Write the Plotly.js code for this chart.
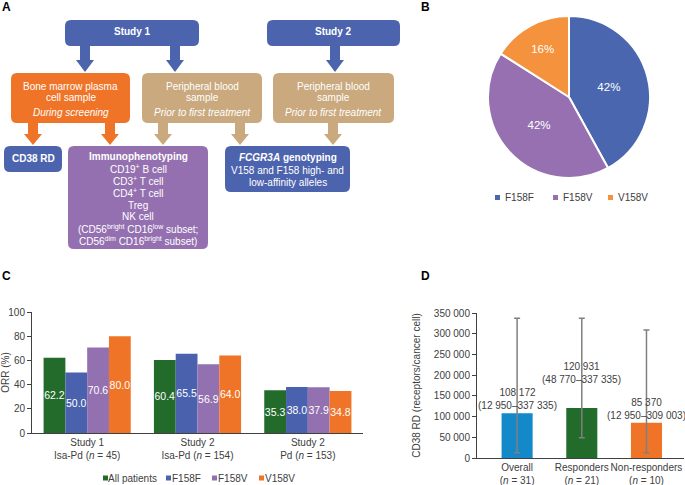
<!DOCTYPE html>
<html><head><meta charset="utf-8">
<script src="https://cdn.plot.ly/plotly-3.0.1.min.js"></script>
<style>html,body{margin:0;padding:0;background:#fff;}</style>
</head><body>
<div id="chart" style="width:685px;height:485px;"></div>
<script>
// ---------- Panel B data ----------
const genotypes = ['F158F', 'F158V', 'V158V'];
const genotypeShare = [42, 42, 16];
// ---------- Panel C data ----------
const studyGroups = ['Study 1<br>Isa-Pd (<i>n</i> = 45)', 'Study 2<br>Isa-Pd (<i>n</i> = 154)', 'Study 2<br>Pd (<i>n</i> = 153)'];
const orrSeries = ['All patients', 'F158F', 'F158V', 'V158V'];
const orrAll = [62.2, 60.4, 35.3];
const orrFF = [50.0, 65.5, 38.0];
const orrFV = [70.6, 56.9, 37.9];
const orrVV = [80.0, 64.0, 34.8];
const orrTicks = [0, 20, 40, 60, 80, 100];
// ---------- Panel D data ----------
const rdGroups = ['Overall<br>(<i>n</i> = 31)', 'Responders<br>(<i>n</i> = 21)', 'Non-responders<br>(<i>n</i> = 10)'];
const rdMedian = [108172, 120931, 85370];
const rdMin = [12950, 48770, 12950];
const rdMax = [337335, 337335, 309003];
const rdTicks = [0, 50000, 100000, 150000, 200000, 250000, 300000, 350000];

// ---------- helpers ----------
const W = 685, H = 485;
const px = x => x / W;
const py = y => 1 - y / H;
const FONT = 'Liberation Sans, Arial, sans-serif';
const fmt = n => String(n).replace(/\B(?=(\d{3})+(?!\d))/g, ' ');

const BLUE = '#4c63ae', ORANGE = '#f07427', TAN = '#c9a97d', PURPLE = '#9570b0', GREEN = '#236b2a';
const ORRCOL = [GREEN, '#4a62ad', '#9370b0', ORANGE];
const PIECOL = ['#4a66ae', '#9670b0', '#f5923e'];
const DCOL = ['#1389c9', GREEN, ORANGE];

function P(x, y) { return px(x).toFixed(5) + ',' + py(y).toFixed(5); }
function rr(x0, y0, x1, y1, r) {
  return 'M' + P(x0 + r, y0) + ' L' + P(x1 - r, y0) + ' Q' + P(x1, y0) + ' ' + P(x1, y0 + r) +
    ' L' + P(x1, y1 - r) + ' Q' + P(x1, y1) + ' ' + P(x1 - r, y1) +
    ' L' + P(x0 + r, y1) + ' Q' + P(x0, y1) + ' ' + P(x0, y1 - r) +
    ' L' + P(x0, y0 + r) + ' Q' + P(x0, y0) + ' ' + P(x0 + r, y0) + ' Z';
}
function arrowPath(cx, y0, y1, hy) {
  return 'M' + P(cx - 5, y0) + ' L' + P(cx + 5, y0) + ' L' + P(cx + 5, hy) + ' L' + P(cx + 9, hy) +
    ' L' + P(cx, y1) + ' L' + P(cx - 9, hy) + ' L' + P(cx - 5, hy) + ' Z';
}
const shapes = [];
function box(x0, y0, x1, y1, col) {
  shapes.push({type: 'path', xref: 'paper', yref: 'paper', path: rr(x0, y0, x1, y1, 6), fillcolor: col, line: {width: 0}});
}
function arrow(cx, y0, y1, hy, col) {
  shapes.push({type: 'path', xref: 'paper', yref: 'paper', path: arrowPath(cx, y0, y1, hy), fillcolor: col, line: {width: 0}});
}
const annotations = [];
function txt(x, y, text, opts) {
  opts = opts || {};
  annotations.push({
    xref: 'paper', yref: 'paper', x: px(x), y: py(y), text: text, showarrow: false,
    xanchor: opts.xanchor || 'center', yanchor: 'middle', borderpad: 0,
    font: {family: FONT, size: opts.size || 10, color: opts.color || '#fff'}
  });
}

// ---------- Panel A flowchart ----------
arrow(85, 45, 72, 60, BLUE);
arrow(175, 45, 72, 60, BLUE);
arrow(335, 45, 72, 60, BLUE);
arrow(33, 122, 145, 134, ORANGE);
arrow(110, 122, 145, 134, ORANGE);
arrow(163, 122, 145, 134, TAN);
arrow(240, 122, 145, 134, TAN);
arrow(333, 122, 145, 134, TAN);
box(65, 20, 199, 46, BLUE);
box(267, 20, 400, 46, BLUE);
box(11, 73, 130, 123, ORANGE);
box(142, 73, 262, 123, TAN);
box(273, 73, 394, 123, TAN);
box(4, 146, 62, 172, BLUE);
box(68, 146, 208, 249, PURPLE);
box(225, 146, 350, 192, BLUE);

txt(132, 32, '<b>Study 1</b>');
txt(333.5, 32, '<b>Study 2</b>');
txt(70.5, 86, 'Bone marrow plasma');
txt(70.5, 98, 'cell sample');
txt(70.5, 112, '<i>During screening</i>');
[202, 333.5].forEach(cx => {
  txt(cx, 86, 'Peripheral blood');
  txt(cx, 98, 'sample');
  txt(cx, 112, '<i>Prior to first treatment</i>');
});
txt(33, 159, '<b>CD38 RD</b>');
txt(138, 157, '<b>Immunophenotyping</b>');
txt(138, 169, 'CD19<sup>+</sup> B cell');
txt(138, 181, 'CD3<sup>+</sup> T cell');
txt(138, 193, 'CD4<sup>+</sup> T cell');
txt(138, 205, 'Treg');
txt(138, 217, 'NK cell');
txt(138, 229, '(CD56<sup>bright</sup> CD16<sup>low</sup> subset;');
txt(138, 241, 'CD56<sup>dim</sup> CD16<sup>bright</sup> subset)');
txt(287.5, 158, '<b><i>FCGR3A</i> genotyping</b>');
txt(287.5, 170, 'V158 and F158 high- and');
txt(287.5, 182, 'low-affinity alleles');

// panel letters
txt(6, 7, '<b>A</b>', {size: 12, color: '#000'});
txt(426, 7, '<b>B</b>', {size: 12, color: '#000'});
txt(6, 276, '<b>C</b>', {size: 12, color: '#000'});
txt(426, 276, '<b>D</b>', {size: 12, color: '#000'});

// ---------- manual legends ----------
function legendItem(mx, my, col, label, tx) {
  shapes.push({type: 'rect', xref: 'paper', yref: 'paper', x0: px(mx), x1: px(mx + 5), y0: py(my + 2.5), y1: py(my - 2.5), fillcolor: col, line: {width: 0}});
  txt(tx, my, label, {xanchor: 'left', color: '#404040'});
}
const pieLegX = [495, 553, 608], pieTxtX = [504, 562, 617];
genotypes.forEach((g, i) => legendItem(pieLegX[i], 197.5, PIECOL[i], g, pieTxtX[i]));
const cLegX = [103, 166, 212, 259], cTxtX = [107, 171, 217, 264];
orrSeries.forEach((s, i) => legendItem(cLegX[i], 478, ORRCOL[i], s, cTxtX[i]));

// ---------- Panel D labels ----------
const dShift = [1, 22, 1];
rdMedian.forEach((v, i) => {
  annotations.push({
    xref: 'x2', yref: 'y2', x: rdGroups[i], y: v, yanchor: 'bottom', yshift: dShift[i],
    text: fmt(v) + '<br>(' + fmt(rdMin[i]) + '–' + fmt(rdMax[i]) + ')', showarrow: false,
    borderpad: 0, font: {family: FONT, size: 10, color: '#404040'}
  });
});

// ---------- traces ----------
const orrValues = [orrAll, orrFF, orrFV, orrVV];
const traces = orrValues.map((vals, i) => ({
  type: 'bar', x: studyGroups, y: vals, name: orrSeries[i], xaxis: 'x', yaxis: 'y',
  marker: {color: ORRCOL[i]}, text: vals.map(v => v.toFixed(1)), textposition: 'inside',
  insidetextanchor: 'middle', constraintext: 'none', textangle: 0,
  textfont: {family: FONT, size: 10.5, color: '#fff'}, hoverinfo: 'none', showlegend: false
}));
traces.push({
  type: 'bar', x: rdGroups, y: rdMedian, xaxis: 'x2', yaxis: 'y2', width: 0.48,
  marker: {color: DCOL}, hoverinfo: 'none', showlegend: false,
  error_y: {type: 'data', symmetric: false,
    array: rdMax.map((v, i) => v - rdMedian[i]),
    arrayminus: rdMedian.map((v, i) => v - rdMin[i]),
    color: '#808080', thickness: 1.5, width: 3}
});
traces.push({
  type: 'pie', labels: genotypes, values: genotypeShare, sort: false, direction: 'clockwise', rotation: 0,
  marker: {colors: PIECOL, line: {color: '#fff', width: 2}}, textinfo: 'percent', textposition: 'inside',
  insidetextorientation: 'horizontal', textfont: {family: FONT, size: 11.5, color: '#fff'},
  domain: {x: [px(488), px(650)], y: [py(178), py(16)]}, hoverinfo: 'none', showlegend: false
});

const axFont = {family: FONT, size: 10, color: '#404040'};
const layout = {
  width: W, height: H, margin: {l: 0, r: 0, t: 0, b: 0},
  paper_bgcolor: '#fff', plot_bgcolor: 'rgba(0,0,0,0)',
  font: {family: FONT, size: 10, color: '#404040'},
  separators: '. ', barmode: 'group', bargap: 0.21, bargroupgap: 0, showlegend: false,
  xaxis: {domain: [px(32), px(363)], anchor: 'y', showline: true, linecolor: '#404040', linewidth: 1,
    ticks: '', tickangle: 0, tickfont: axFont, showgrid: false, zeroline: false, fixedrange: true},
  yaxis: {domain: [py(433), py(312)], anchor: 'x', range: [0, 100], tickvals: orrTicks,
    showline: true, linecolor: '#404040', linewidth: 1, ticks: 'outside', ticklen: 4, tickcolor: '#404040',
    tickfont: axFont, showgrid: false, zeroline: false,
    title: {text: 'ORR (%)', font: axFont, standoff: 5}},
  xaxis2: {domain: [px(477), px(684)], anchor: 'y2', range: [-0.62, 2.58], showline: true, linecolor: '#404040',
    linewidth: 1, ticks: '', tickangle: 0, tickfont: axFont, showgrid: false, zeroline: false},
  yaxis2: {domain: [py(458), py(313)], anchor: 'x2', range: [0, 350000], tickvals: rdTicks, tickformat: ',d',
    showline: true, linecolor: '#404040', linewidth: 1, ticks: 'outside', ticklen: 4, tickcolor: '#404040',
    tickfont: axFont, showgrid: false, zeroline: false,
    title: {text: 'CD38 RD (receptors/cancer cell)', font: axFont, standoff: 11}},
  shapes: shapes,
  annotations: annotations
};
Plotly.newPlot('chart', traces, layout, {staticPlot: true, displayModeBar: false});
</script>
</body></html>
